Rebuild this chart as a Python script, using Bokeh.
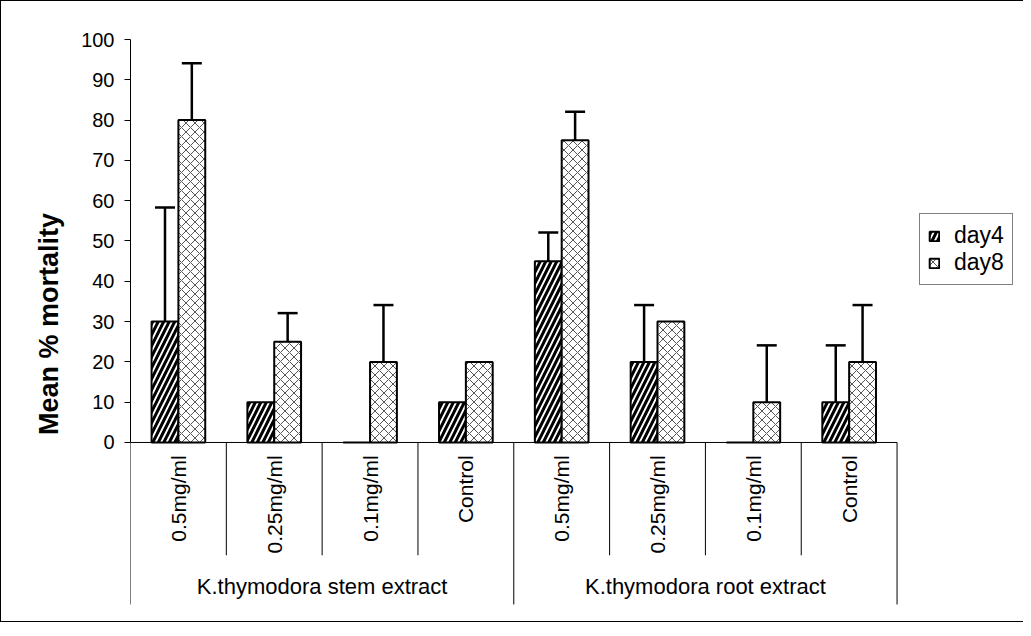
import numpy as np
from bokeh.plotting import figure
from bokeh.models import (ColumnDataSource, Range1d, FixedTicker, Whisker, TeeHead,
                          Legend, LegendItem)
from bokeh.core.properties import value
from bokeh.embed import file_html
from bokeh.resources import INLINE

# ---- data ----
categories = ["0.5mg/ml", "0.25mg/ml", "0.1mg/ml", "Control",
              "0.5mg/ml", "0.25mg/ml", "0.1mg/ml", "Control"]
groups = ["K.thymodora stem extract", "K.thymodora root extract"]
group_size = 4
day4 = [30, 10, 0, 10, 45, 20, 0, 10]
day8 = [80, 25, 20, 20, 75, 30, 10, 20]
day4_err = [28.3, 0, 0, 0, 7.1, 14.1, 0, 14.1]
day8_err = [14.1, 7.1, 14.1, 0, 7.1, 0, 14.1, 14.1]
y_ticks = list(range(0, 101, 10))

FONT = value("Liberation Sans")

n = len(categories)
bar_w = 0.28
centers = [i + 0.5 for i in range(n)]
x4 = [c - bar_w / 2 for c in centers]
x8 = [c + bar_w / 2 for c in centers]

# layout: the frame extends below y=0 (category table) and right (legend area)
y_low = -41.2
x_high = n + 1.33
cat_line_end = -28.0
grp_line_end = -40.2
cat_label_y = -3.2
grp_label_y = -35.7

p = figure(width=1023, height=622, x_range=Range1d(0, x_high), y_range=Range1d(y_low, 100),
           output_backend="svg", toolbar_location=None, x_axis_location=None,
           min_border_left=129, min_border_right=0, min_border_top=38, min_border_bottom=15)
p.outline_line_color = None
p.grid.visible = False
p.background_fill_color = "white"
p.border_fill_color = "white"
p.styles = {"border-top": "1px solid black", "border-left": "1px solid black",
            "border-bottom": "1px solid black"}

# y axis
ya = p.yaxis[0]
ya.ticker = FixedTicker(ticks=y_ticks)
ya.bounds = (0, 100)
ya.major_tick_out = 6
ya.major_tick_in = 0
ya.minor_tick_out = 0
ya.minor_tick_in = 0
ya.axis_line_color = "black"
ya.major_tick_line_color = "black"
ya.major_label_text_font = "Liberation Sans"
ya.major_label_text_font_size = "20px"
ya.major_label_text_color = "black"
ya.major_label_standoff = 10
ya.axis_label = "Mean % mortality"
ya.axis_label_text_font = "Liberation Sans"
ya.axis_label_text_font_style = "bold"
ya.axis_label_text_font_size = "27px"
ya.axis_label_text_color = "black"
ya.axis_label_standoff = 14

# x axis line and category table dividers
bounds = list(range(n + 1))
p.segment(x0=[0], y0=[0], x1=[n], y1=[0], line_color="black", line_width=1)
seg_y1 = [grp_line_end if b % group_size == 0 else cat_line_end for b in bounds]
p.segment(x0=bounds, y0=[0] * len(bounds), x1=bounds, y1=seg_y1,
          line_color="black", line_width=1)

# bars
r4 = p.vbar(x=x4, top=day4, width=bar_w, fill_color="white", line_color="black", line_width=2,
            hatch_pattern="right_diagonal_line", hatch_color="black", hatch_weight=3, hatch_scale=11)
r8 = p.vbar(x=x8, top=day8, width=bar_w, fill_color="white", line_color="black", line_width=2,
            hatch_pattern="diagonal_cross", hatch_color="#555555", hatch_weight=1, hatch_scale=9)

# error bars (upper only)
ex, elo, ehi = [], [], []
for xs, vals, errs in ((x4, day4, day4_err), (x8, day8, day8_err)):
    for xv, v, e in zip(xs, vals, errs):
        if e > 0:
            ex.append(xv); elo.append(v); ehi.append(v + e)
esrc = ColumnDataSource(dict(x=ex, lower=elo, upper=ehi))
wh = Whisker(source=esrc, base="x", lower="lower", upper="upper", dimension="height",
             line_color="black", line_width=2.5, lower_head=None,
             upper_head=TeeHead(size=20, line_color="black", line_width=2.5))
p.add_layout(wh)

# category labels (rotated)
p.text(x=centers, y=[cat_label_y] * n, text=categories, angle=np.pi / 2,
       text_align="right", text_baseline="middle", text_font=FONT,
       text_font_size="21px", text_color="black")

# group labels
gx = [(i + 0.5) * group_size for i in range(len(groups))]
p.text(x=gx, y=[grp_label_y] * len(groups), text=groups, text_align="center",
       text_baseline="middle", text_font=FONT, text_font_size="22px", text_color="black")

legend = Legend(items=[LegendItem(label="day4", renderers=[r4]),
                       LegendItem(label="day8", renderers=[r8])],
                location=(789, 323))
legend.label_text_font = "Liberation Sans"
legend.label_text_font_size = "23px"
legend.label_height = 22
legend.label_text_line_height = 1.0
legend.label_text_color = "black"
legend.glyph_width = 12
legend.glyph_height = 12
legend.label_standoff = 14
legend.padding = 8
legend.spacing = 0
legend.margin = 0
legend.border_line_color = "black"
legend.border_line_width = 1
legend.background_fill_color = "white"
p.add_layout(legend, "center")

open("out.html", "w").write(file_html(p, INLINE))
